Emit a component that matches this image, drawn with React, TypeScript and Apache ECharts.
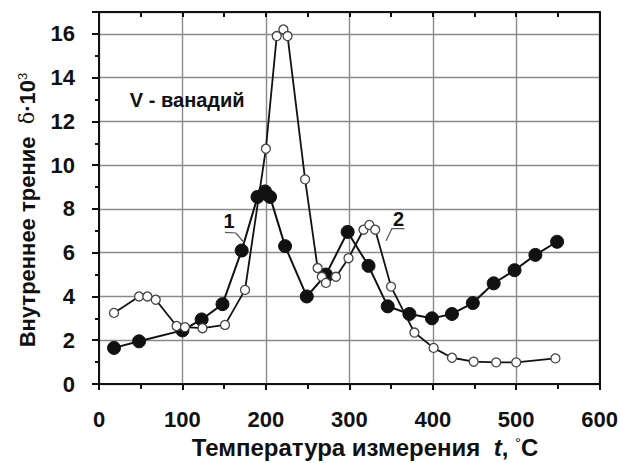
import React, { useEffect, useRef } from "react";
import * as echarts from "echarts";

const tempFilled = [18, 48, 100, 123, 148, 171, 190, 199, 205, 223, 249, 272, 298, 323, 346, 372, 399, 423, 448, 473, 498, 523, 549];
const deltaFilled = [1.65, 1.95, 2.45, 2.95, 3.65, 6.1, 8.55, 8.8, 8.55, 6.3, 4.0, 5.0, 6.95, 5.4, 3.55, 3.2, 3.0, 3.2, 3.7, 4.6, 5.2, 5.9, 6.5];

const tempOpen = [18, 48, 58, 68, 93, 103, 124, 151, 175, 200, 213, 221, 226, 247, 262, 267, 272, 284, 299, 317, 324, 331, 350, 378, 401, 423, 449, 476, 500, 547];
const deltaOpen = [3.25, 4.0, 4.0, 3.85, 2.65, 2.6, 2.55, 2.7, 4.3, 10.75, 15.9, 16.2, 15.9, 9.35, 5.3, 4.9, 4.62, 4.9, 5.75, 7.05, 7.27, 7.05, 4.45, 2.35, 1.65, 1.2, 1.02, 0.99, 0.99, 1.17];

const xTicks = [0, 100, 200, 300, 400, 500, 600];
const yTicks = [0, 2, 4, 6, 8, 10, 12, 14, 16];

const xTitle = "Температура измерения  {i|t}, {s|°}C";
const yTitle = "Внутреннее трение  {d|δ}·10{s|3}";

// annotation anchors in data coordinates: label position, leader polyline
const label1 = { text: "1", at: [156, 7.45], leader: [[151, 6.93], [164, 6.9], [173, 6.5]] };
const label2 = { text: "2", at: [359, 7.55], leader: [[366, 7.1], [351, 7.1], [344, 6.55]] };
const noteText = "V - ванадий";
const noteAt = [37, 13];

const FONT = "'Liberation Sans', Arial, sans-serif";

export default function App() {
  const ref = useRef<HTMLDivElement>(null);
  useEffect(() => {
    if (!ref.current) return;
    const chart = echarts.init(ref.current, null, { renderer: "svg" });
    const grid = { left: 99, right: 21, top: 12, bottom: 79 };
    const option: any = {
      animation: false,
      backgroundColor: "#fff",
      grid,
      xAxis: [
        {
          type: "value",
          min: 0,
          max: 600,
          interval: 100,
          position: "bottom",
          axisLine: { show: true, onZero: false, lineStyle: { color: "#111", width: 2 } },
          axisTick: { show: true, inside: false, length: 6, lineStyle: { color: "#111", width: 2 } },
          minorTick: { show: true, splitNumber: 2, length: 5, lineStyle: { color: "#111", width: 2 } },
          splitLine: { show: true, lineStyle: { color: "#8a8a8a", width: 1.4 } },
          axisLabel: {
            margin: 24,
            fontFamily: FONT,
            fontWeight: "bold",
            fontSize: 22,
            color: "#111",
            formatter: (v: number) => (xTicks.includes(v) ? String(v) : ""),
          },
        },
        {
          type: "value",
          min: 0,
          max: 600,
          interval: 50,
          position: "top",
          axisLine: { show: true, onZero: false, lineStyle: { color: "#111", width: 2 } },
          axisTick: { show: true, inside: true, length: 5, lineStyle: { color: "#111", width: 2 } },
          splitLine: { show: false },
          axisLabel: { show: false },
        },
      ],
      yAxis: [
        {
          type: "value",
          min: 0,
          max: 17,
          interval: 2,
          position: "left",
          axisLine: { show: true, onZero: false, lineStyle: { color: "#111", width: 2 } },
          axisTick: { show: true, inside: false, length: 7, lineStyle: { color: "#111", width: 2 } },
          minorTick: { show: true, splitNumber: 2, length: 4, lineStyle: { color: "#111", width: 2 } },
          splitLine: { show: true, lineStyle: { color: "#8a8a8a", width: 1.4 } },
          axisLabel: {
            margin: 24,
            fontFamily: FONT,
            fontWeight: "bold",
            fontSize: 22,
            color: "#111",
            formatter: (v: number) => (yTicks.includes(v) ? String(v) : ""),
          },
        },
        {
          type: "value",
          min: 0,
          max: 17,
          position: "right",
          axisLine: { show: true, onZero: false, lineStyle: { color: "#111", width: 2 } },
          axisTick: { show: false },
          splitLine: { show: false },
          axisLabel: { show: false },
        },
      ],
      series: [
        {
          type: "line",
          name: "1",
          data: tempFilled.map((t, i) => [t, deltaFilled[i]]),
          symbol: "circle",
          symbolSize: 13,
          lineStyle: { color: "#111", width: 2 },
          itemStyle: { color: "#111", borderColor: "#111", borderWidth: 1 },
          z: 3,
        },
        {
          type: "line",
          name: "2",
          data: tempOpen.map((t, i) => [t, deltaOpen[i]]),
          symbol: "circle",
          symbolSize: 9,
          lineStyle: { color: "#111", width: 1.8 },
          itemStyle: { color: "#fff", borderColor: "#444", borderWidth: 1.3 },
          z: 4,
        },
      ],
    };
    chart.setOption(option);

    const px = (p: number[]) => chart.convertToPixel({ gridIndex: 0 }, p) as number[];
    const graphics: any[] = [];
    [label1, label2].forEach((l) => {
      const p = px(l.at);
      graphics.push({
        type: "text",
        x: p[0],
        y: p[1],
        style: {
          text: l.text,
          fontFamily: FONT,
          fontWeight: "bold",
          fontSize: 20,
          fill: "#111",
          align: "center",
          verticalAlign: "middle",
        },
        z: 10,
      });
      graphics.push({
        type: "polyline",
        shape: { points: l.leader.map((q) => px(q)) },
        style: { stroke: "#555", lineWidth: 1.2, fill: "none" },
        z: 10,
      });
    });
    const np = px(noteAt);
    graphics.push({
      type: "text",
      x: np[0],
      y: np[1],
      style: {
        text: noteText,
        fontFamily: FONT,
        fontWeight: "bold",
        fontSize: 20,
        fill: "#111",
        align: "left",
        verticalAlign: "middle",
      },
      z: 10,
    });
    // axis titles
    graphics.push({
      type: "text",
      x: 365,
      y: 447,
      style: {
        text: xTitle,
        fontFamily: FONT,
        fontWeight: "bold",
        fontSize: 24,
        fill: "#111",
        align: "center",
        verticalAlign: "middle",
        rich: {
          i: { fontFamily: FONT, fontWeight: "bold", fontStyle: "italic", fontSize: 24, fill: "#111" },
          s: { fontFamily: FONT, fontSize: 15, fill: "#111", verticalAlign: "top", padding: [0, 0, 10, 0] },
        },
      },
      z: 10,
    });
    graphics.push({
      type: "text",
      x: 27,
      y: 210,
      rotation: Math.PI / 2,
      style: {
        text: yTitle,
        fontFamily: FONT,
        fontWeight: "bold",
        fontSize: 22,
        fill: "#111",
        align: "center",
        verticalAlign: "middle",
        rich: {
          d: { fontFamily: "'DejaVu Serif', serif", fontSize: 21, fill: "#111" },
          s: { fontFamily: FONT, fontSize: 13, fill: "#111", verticalAlign: "top", padding: [0, 0, 10, 0] },
        },
      },
      z: 10,
    });
    chart.setOption({ graphic: graphics });

    return () => chart.dispose();
  }, []);
  return <div ref={ref} style={{ width: 621, height: 463, position: "absolute", left: 0, top: 0 }} />;
}
